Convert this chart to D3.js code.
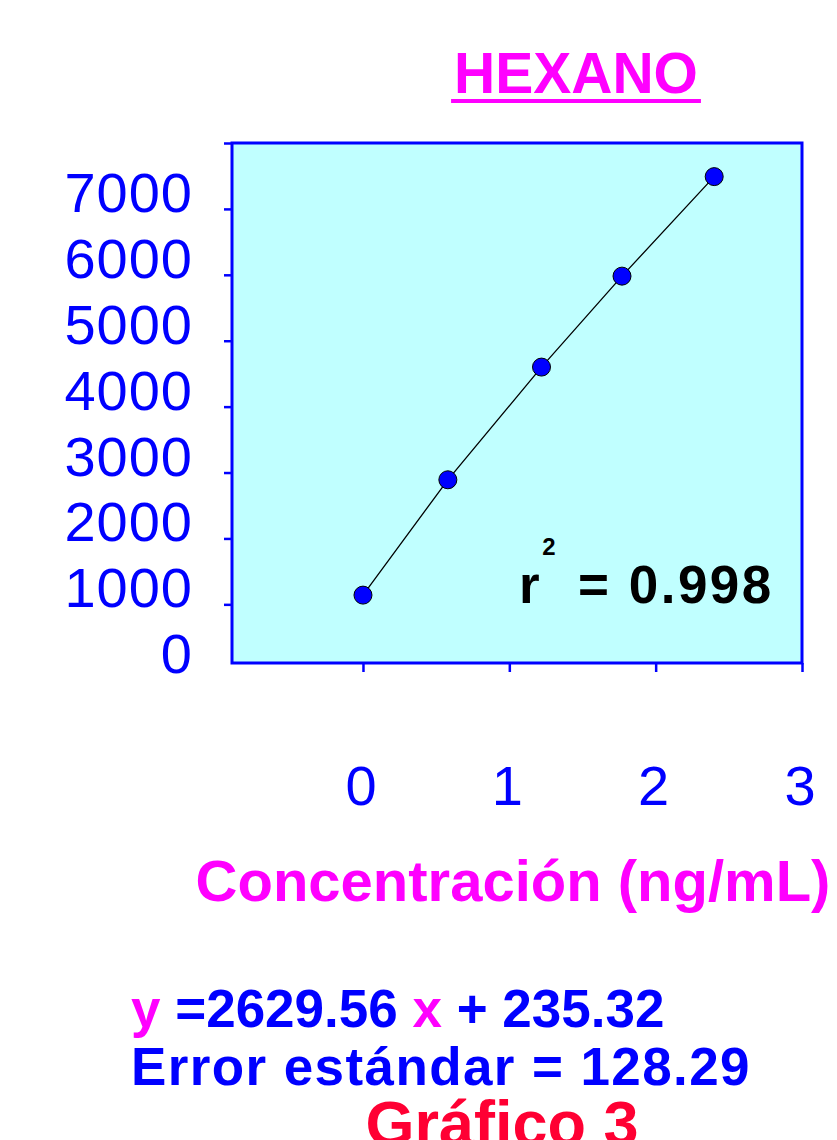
<!DOCTYPE html>
<html>
<head>
<meta charset="utf-8">
<script src="https://cdn.jsdelivr.net/npm/d3@7"></script>
<style>
  body { margin: 0; background: #fff; }
  svg { display: block; }
</style>
</head>
<body>
<svg></svg>
<script>
// Chart data
const concentration = [0, 0.58, 1.22, 1.77, 2.40];
const area = [1140, 2890, 4600, 5980, 7490];
const yTickLines = [1000, 2000, 3000, 4000, 5000, 6000, 7000, 8000];
const yTickLabels = [0, 1000, 2000, 3000, 4000, 5000, 6000, 7000];
const xTicks = [0, 1, 2, 3];
const titleText = "HEXANO";
const xTitle = "Concentración (ng/mL)";
const r2Text = "= 0.998";
const slopeText = "=2629.56";
const interceptText = "+ 235.32";
const errorText = "Error estándar = 128.29";
const figureText = "Gráfico 3";

const width = 837, height = 1140;
const margin = { top: 143, left: 232 };
const innerWidth = 570, innerHeight = 520;

const blue = "#0000ff", magenta = "#ff00ff", red = "#ff0033";

const svg = d3.select("svg")
  .attr("width", width)
  .attr("height", height)
  .style("font-family", "'Liberation Sans', Arial, sans-serif");

const points = concentration.map((c, i) => ({ x: c, y: area[i] }));

// scales
const xScale = d3.scaleLinear().domain([-0.895, 3]).range([0, innerWidth]);
const yScale = d3.scaleLinear().domain([110, 8000]).range([innerHeight, 0]);

const g = svg.append("g")
  .attr("transform", `translate(${margin.left},${margin.top})`);

// plot background
g.append("rect")
  .attr("width", innerWidth)
  .attr("height", innerHeight)
  .attr("fill", "#c0ffff")
  .attr("stroke", blue)
  .attr("stroke-width", 3);

// y axis ticks (labels drawn separately)
const yAxis = g.append("g")
  .call(d3.axisLeft(yScale).tickValues(yTickLines).tickSize(8).tickFormat(""));
yAxis.select(".domain").remove();
yAxis.selectAll("line").attr("stroke", blue).attr("stroke-width", 2.5);

svg.append("g").selectAll("text")
  .data(yTickLabels)
  .enter()
  .append("text")
  .attr("x", 193)
  .attr("y", d => margin.top + yScale(d) + 3)
  .attr("text-anchor", "end")
  .attr("fill", blue)
  .style("font-size", "56px")
  .style("letter-spacing", "1px")
  .text(d => d);

// x axis ticks
const xAxis = g.append("g")
  .attr("transform", `translate(0,${innerHeight})`)
  .call(d3.axisBottom(xScale).tickValues(xTicks).tickSize(9).tickFormat(""));
xAxis.select(".domain").remove();
xAxis.selectAll("line").attr("stroke", blue).attr("stroke-width", 2.5);

svg.append("g").selectAll("text")
  .data(xTicks)
  .enter()
  .append("text")
  .attr("x", d => margin.left + xScale(d) - 2)
  .attr("y", 805)
  .attr("text-anchor", "middle")
  .attr("fill", blue)
  .style("font-size", "56px")
  .text(d => d);

// line through points
const line = d3.line()
  .x(d => xScale(d.x))
  .y(d => yScale(d.y));

g.append("path")
  .datum(points)
  .attr("d", line)
  .attr("fill", "none")
  .attr("stroke", "#000")
  .attr("stroke-width", 1.3);

g.selectAll(".dot")
  .data(points)
  .enter()
  .append("circle")
  .attr("class", "dot")
  .attr("cx", d => xScale(d.x))
  .attr("cy", d => yScale(d.y))
  .attr("r", 9)
  .attr("fill", blue)
  .attr("stroke", "#000")
  .attr("stroke-width", 1);

// r squared
svg.append("text")
  .attr("x", 519)
  .attr("y", 603)
  .attr("fill", "#000")
  .style("font-size", "53px")
  .style("font-weight", "bold")
  .text("r");
svg.append("text")
  .attr("x", 549)
  .attr("y", 555)
  .attr("text-anchor", "middle")
  .attr("fill", "#000")
  .style("font-size", "24px")
  .style("font-weight", "bold")
  .text("2");
svg.append("text")
  .attr("x", 578)
  .attr("y", 603)
  .attr("fill", "#000")
  .style("font-size", "53px")
  .style("font-weight", "bold")
  .style("letter-spacing", "2.5px")
  .text(r2Text);

// title with underline
const title = svg.append("text")
  .attr("x", 576)
  .attr("y", 93)
  .attr("text-anchor", "middle")
  .attr("fill", magenta)
  .style("font-size", "57px")
  .style("font-weight", "bold")
  .text(titleText);
const tb = title.node().getBBox();
svg.append("rect")
  .attr("x", tb.x - 3)
  .attr("y", 99)
  .attr("width", tb.width + 6)
  .attr("height", 4)
  .attr("fill", magenta);

// x title
svg.append("text")
  .attr("x", 513)
  .attr("y", 901)
  .attr("text-anchor", "middle")
  .attr("fill", magenta)
  .style("font-size", "58px")
  .style("font-weight", "bold")
  .text(xTitle);

// equation
const eq = svg.append("text")
  .attr("x", 131)
  .attr("y", 1027)
  .style("font-size", "53px")
  .style("font-weight", "bold");
eq.append("tspan").attr("fill", magenta).text("y ");
eq.append("tspan").attr("fill", blue).text(slopeText + " ");
eq.append("tspan").attr("fill", magenta).text("x ");
eq.append("tspan").attr("fill", blue).text(interceptText);

svg.append("text")
  .attr("x", 131)
  .attr("y", 1085)
  .attr("fill", blue)
  .style("font-size", "53px")
  .style("font-weight", "bold")
  .style("letter-spacing", "1.4px")
  .text(errorText);

svg.append("text")
  .attr("x", 502)
  .attr("y", 1145)
  .attr("text-anchor", "middle")
  .attr("fill", red)
  .style("font-size", "63px")
  .style("font-weight", "bold")
  .text(figureText);
</script>
</body>
</html>
